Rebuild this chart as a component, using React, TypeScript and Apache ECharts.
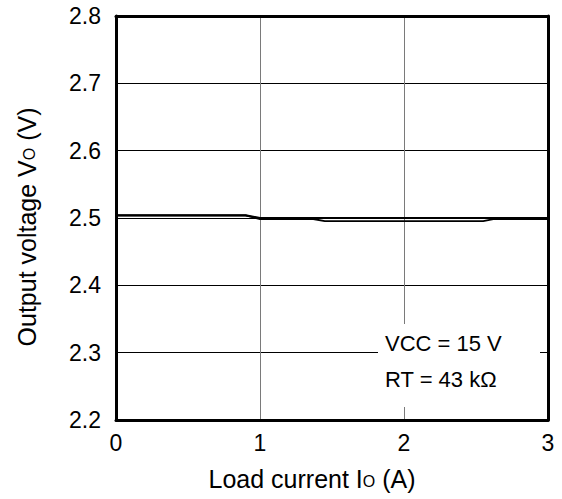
import React, { useEffect, useRef } from "react";
import * as echarts from "echarts";

const xTicks = [0, 1, 2, 3];
const yTicks = [2.2, 2.3, 2.4, 2.5, 2.6, 2.7, 2.8];
const seriesA: [number, number][] = [
  [0, 2.504], [0.9, 2.504], [1.0, 2.5], [3, 2.5],
];
const seriesB: [number, number][] = [
  [0, 2.504], [0.9, 2.504], [1.0, 2.4985], [1.37, 2.4985], [1.45, 2.4955],
  [2.55, 2.4955], [2.62, 2.4985], [3, 2.4985],
];
const noteLines = ["VCC = 15 V", "RT = 43 kΩ"];

const FONT = "Liberation Sans, Arial, Helvetica, sans-serif";

export default function App() {
  const ref = useRef<HTMLDivElement>(null);
  useEffect(() => {
    document.body.style.margin = "0";
    const chart = echarts.init(ref.current!, undefined, { renderer: "svg" });
    const frame = { show: true, onZero: false, lineStyle: { color: "#000", width: 3 } };
    chart.setOption({
      animation: false,
      backgroundColor: "#fff",
      grid: { left: 116, right: 14, top: 16, bottom: 79 },
      xAxis: [
        {
          type: "value",
          min: xTicks[0], max: xTicks[xTicks.length - 1], interval: 1,
          axisLine: frame,
          axisTick: { show: false },
          axisLabel: { color: "#000", fontSize: 23, fontFamily: FONT, margin: 11 },
          splitLine: { show: true, showMinLine: false, showMaxLine: false, lineStyle: { color: "#7a7a7a", width: 1 } },
          z: 3,
        },
        {
          type: "value", position: "top",
          min: xTicks[0], max: xTicks[xTicks.length - 1], interval: 1,
          axisLine: frame, axisTick: { show: false }, axisLabel: { show: false }, splitLine: { show: false },
          z: 3,
        },
      ],
      yAxis: [
        {
          type: "value",
          min: yTicks[0], max: yTicks[yTicks.length - 1], interval: 0.1,
          axisLine: frame,
          axisTick: { show: false },
          axisLabel: {
            color: "#000", fontSize: 23, fontFamily: FONT, margin: 15,
            formatter: (v: number) => v.toFixed(1),
          },
          splitLine: { show: true, showMinLine: false, showMaxLine: false, lineStyle: { color: "#000", width: 1 } },
          z: 3,
        },
        {
          type: "value", position: "right",
          min: yTicks[0], max: yTicks[yTicks.length - 1], interval: 0.1,
          axisLine: frame, axisTick: { show: false }, axisLabel: { show: false }, splitLine: { show: false },
          z: 3,
        },
      ],
      series: [
        {
          type: "line", data: seriesA, showSymbol: false, symbol: "none",
          lineStyle: { color: "#000", width: 2.2 }, z: 5,
        },
        {
          type: "line", data: seriesB, showSymbol: false, symbol: "none",
          lineStyle: { color: "#000", width: 1.8 }, z: 5,
        },
      ],
      graphic: [
        {
          type: "rect", z: 4,
          shape: { x: 378, y: 324, width: 162, height: 83 },
          style: { fill: "#fff" },
        },
        {
          type: "text", z: 11, x: 385, y: 343,
          style: { text: noteLines[0], fill: "#000", font: `22px ${FONT}`, verticalAlign: "middle", align: "left" },
        },
        {
          type: "text", z: 11, x: 385, y: 379,
          style: { text: noteLines[1], fill: "#000", font: `22px ${FONT}`, verticalAlign: "middle", align: "left" },
        },
        {
          type: "text", z: 11, x: 312, y: 479,
          style: {
            text: "Load current I{s|O} (A)",
            fill: "#000", fontSize: 25, fontFamily: FONT,
            align: "center", verticalAlign: "middle",
            rich: { s: { fontSize: 16, fontFamily: FONT, fill: "#000", verticalAlign: "bottom", padding: [0, 0, 2, 0] } },
          },
        },
        {
          type: "text", z: 11, x: 27, y: 227, rotation: Math.PI / 2,
          style: {
            text: "Output voltage V{s|O} (V)",
            fill: "#000", fontSize: 25, fontFamily: FONT,
            align: "center", verticalAlign: "middle",
            rich: { s: { fontSize: 16, fontFamily: FONT, fill: "#000", verticalAlign: "bottom", padding: [0, 0, 2, 0] } },
          },
        },
      ],
    });
    return () => chart.dispose();
  }, []);
  return <div ref={ref} style={{ width: 562, height: 499 }} />;
}
